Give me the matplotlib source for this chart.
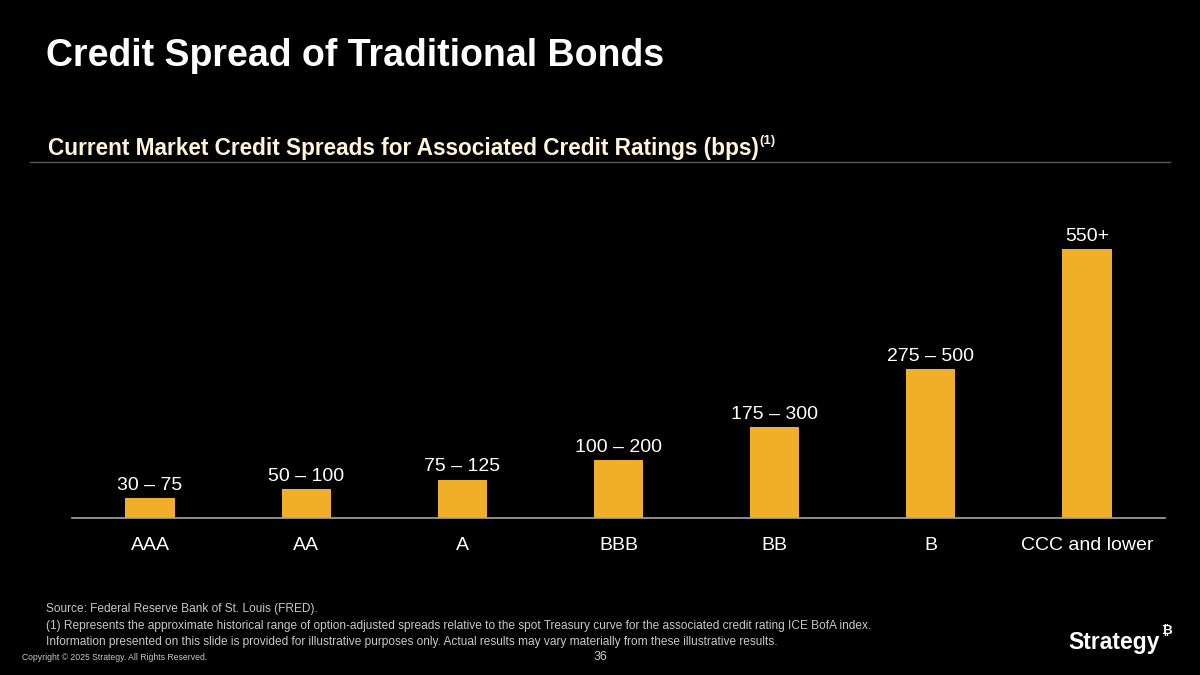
import matplotlib
matplotlib.use("Agg")
import matplotlib.pyplot as plt

# ============================================================
# data
# ============================================================
ratings = ["AAA", "AA", "A", "BBB", "BB", "B", "CCC and lower"]
spread_height = [52.5, 75, 100, 150, 237.5, 387.5, 700]   # bar height (bps)
spread_label = ["30 – 75", "50 – 100", "75 – 125", "100 – 200",
                "175 – 300", "275 – 500", "550+"]

title = "Credit Spread of Traditional Bonds"
subtitle = "Current Market Credit Spreads for Associated Credit Ratings (bps)"
footnotes = [
    "Source: Federal Reserve Bank of St. Louis (FRED).",
    "(1) Represents the approximate historical range of option-adjusted spreads relative to the spot Treasury curve for the associated credit rating ICE BofA index.",
    "Information presented on this slide is provided for illustrative purposes only. Actual results may vary materially from these illustrative results.",
]

BAR = "#F0AE29"
BG = "black"

plt.rcParams["font.family"] = ["Liberation Sans", "DejaVu Sans"]

fig = plt.figure(figsize=(12, 6.75), dpi=100, facecolor=BG)

# ============================================================
# chart
# ============================================================
ax = fig.add_axes([0.06, (675 - 518) / 675, 1093 / 1200, 307 / 675])
ax.set_facecolor(BG)
x = range(len(ratings))
ax.bar(x, spread_height, width=0.315, color=BAR, zorder=2)
ax.set_xlim(-0.5, len(ratings) - 0.5)
ax.set_ylim(0, 800)

for i, (h, lab) in enumerate(zip(spread_height, spread_label)):
    ax.annotate(lab, (i, h), xytext=(0, 3), textcoords="offset points",
                ha="center", va="bottom", color="white", fontsize=14)

ax.set_xticks(list(x))
ax.set_xticklabels(ratings, color="white", fontsize=14)
ax.tick_params(axis="x", length=0, pad=14)
ax.set_yticks([])
for s in ["top", "right", "left"]:
    ax.spines[s].set_visible(False)
ax.spines["bottom"].set_color("#a6a6a6")
ax.spines["bottom"].set_linewidth(1.2)

# ============================================================
# slide text
# ============================================================
fig.text(46 / 1200, 1 - 56 / 675, title, color="white", fontsize=27,
         fontweight="bold", va="center", ha="left")
t = fig.text(48 / 1200, 1 - 149 / 675, subtitle, color="#FFF3DA", fontsize=16.3,
             fontweight="bold", va="center", ha="left")
fig.canvas.draw()
bb = t.get_window_extent()
fig.text(bb.x1 / 1200 + 0.0005, 1 - 141 / 675, "(1)", color="#FFF3DA", fontsize=9.5,
         fontweight="bold", va="center", ha="left")
fig.add_artist(plt.Line2D([30 / 1200, 1170 / 1200], [1 - 162 / 675] * 2,
                          color="#5a5a5a", lw=1.0))

for k, line in enumerate(footnotes):
    fig.text(46 / 1200, 1 - (609 + 16.5 * k) / 675, line, color="#c8c8c8",
             fontsize=8.6, va="center", ha="left")

fig.text(22 / 1200, 1 - 657 / 675, "Copyright © 2025 Strategy. All Rights Reserved.",
         color="#c8c8c8", fontsize=6.2, va="center", ha="left")
fig.text(600 / 1200, 1 - 657 / 675, "36", color="#c8c8c8", fontsize=9,
         va="center", ha="center")

# logo
logo = fig.text(1068 / 1200, 1 - 642 / 675, "Strategy", color="white", fontsize=16.5,
                fontweight="bold", va="center", ha="left")
fig.canvas.draw()
lb = logo.get_window_extent()
fig.text(lb.x1 / 1200 + 0.001, 1 - 631 / 675, "₿", color="white", fontsize=9.5,
         fontweight="bold", va="center", ha="left")

fig.savefig("out.png", dpi=100, facecolor=BG)
